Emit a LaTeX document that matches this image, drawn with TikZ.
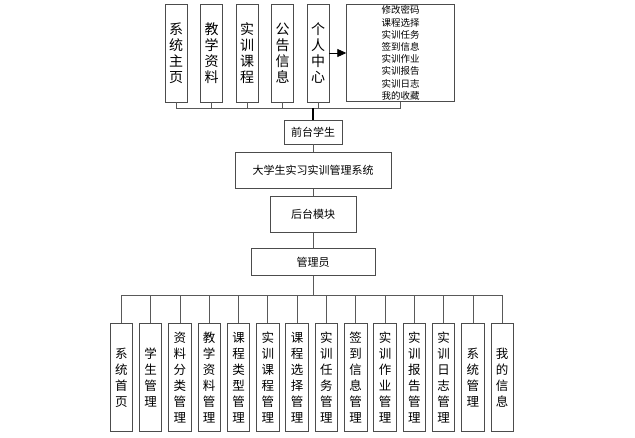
\documentclass[tikz,border=0pt]{standalone}
\usepackage{fontspec}
\setmainfont{Noto Sans CJK SC}
\usetikzlibrary{positioning, arrows.meta}
\tikzstyle{TopBox} = [
	draw=black!70, line width=0.8pt, inner sep=0pt,
	minimum width=22pt, minimum height=98pt,
	align=center, font=\fontsize{14}{16}\selectfont
	]
\tikzstyle{MenuBox} = [
	draw=black!70, line width=0.8pt, inner sep=0pt,
	minimum width=108pt, minimum height=97pt,
	align=center, font=\fontsize{9.5}{12.2}\selectfont
	]
\tikzstyle{MidBox} = [
	draw=black!70, line width=0.8pt, inner sep=0pt,
	font=\fontsize{11}{13}\selectfont
	]
\tikzstyle{BotBox} = [
	draw=black!70, line width=0.8pt, inner sep=0pt,
	minimum width=22.5pt, minimum height=108pt,
	align=center, font=\fontsize{12.5}{16}\selectfont
	]
\tikzstyle{Line} = [black!65, line width=0.8pt]
\tikzstyle{Trunk} = [black, line width=1.6pt]

\begin{document}
\begin{tikzpicture}[x=1pt, y=-1pt]
	\useasboundingbox (0,0) rectangle (635,438);
	%nodes:
		\node [TopBox] (t1) at (176,53) {系\\统\\主\\页};
		\node [TopBox, right =12.7pt of t1] (t2) {教\\学\\资\\料};
		\node [TopBox, right =12.7pt of t2] (t3) {实\\训\\课\\程};
		\node [TopBox, right =12.7pt of t3] (t4) {公\\告\\信\\息};
		\node [TopBox, right =12.7pt of t4] (t5) {个\\人\\中\\心};
		\node [MenuBox, right =16.9pt of t5] (menu) {修改密码\\课程选择\\实训任务\\签到信息\\实训作业\\实训报告\\实训日志\\我的收藏};
		\node [MidBox, minimum width=58pt, minimum height=24pt] (qt) at (313,132) {前台学生};
		\node [MidBox, minimum width=156pt, minimum height=36pt, below =7.5pt of qt] (xt) {大学生实习实训管理系统};
		\node [MidBox, minimum width=86pt, minimum height=36pt, below =7.5pt of xt] (ht) {后台模块};
		\node [MidBox, minimum width=124pt, minimum height=27pt, below =15pt of ht] (gly) {管理员};
		\node [BotBox] (b1) at (121.3,377.5) {系\\统\\首\\页};
		\node [BotBox, right =6pt of b1] (b2) {学\\生\\管\\理};
		\node [BotBox, right =6pt of b2] (b3) {资\\料\\分\\类\\管\\理};
		\node [BotBox, right =6pt of b3] (b4) {教\\学\\资\\料\\管\\理};
		\node [BotBox, right =6pt of b4] (b5) {课\\程\\类\\型\\管\\理};
		\node [BotBox, right =6pt of b5] (b6) {实\\训\\课\\程\\管\\理};
		\node [BotBox, right =6pt of b6] (b7) {课\\程\\选\\择\\管\\理};
		\node [BotBox, right =6pt of b7] (b8) {实\\训\\任\\务\\管\\理};
		\node [BotBox, right =6pt of b8] (b9) {签\\到\\信\\息\\管\\理};
		\node [BotBox, right =6pt of b9] (b10) {实\\训\\作\\业\\管\\理};
		\node [BotBox, right =6pt of b10] (b11) {实\\训\\报\\告\\管\\理};
		\node [BotBox, right =6pt of b11] (b12) {实\\训\\日\\志\\管\\理};
		\node [BotBox, right =6pt of b12] (b13) {系\\统\\管\\理};
		\node [BotBox, right =6pt of b13] (b14) {我\\的\\信\\息};
	%edges:
		\coordinate (topbus) at (313,108);
		\coordinate (botbus) at (313,295);
		\foreach \n in {t1,t2,t3,t4,t5,menu}
			\draw[Line] (\n.south) |- (topbus);
		\draw[Trunk] (topbus) -- (qt.north);
		\draw[black, line width=0.8pt, -{Triangle[length=9pt,width=8pt]}] (t5.east) -- (menu.west);
		\draw[Line] (qt.south) -- (xt.north);
		\draw[Line] (xt.south) -- (ht.north);
		\draw[Line] (ht.south) -- (gly.north);
		\draw[Line] (gly.south) -- (botbus);
		\foreach \i in {1,...,14}
			\draw[Line] (botbus) -| (b\i.north);
\end{tikzpicture}
\end{document}
